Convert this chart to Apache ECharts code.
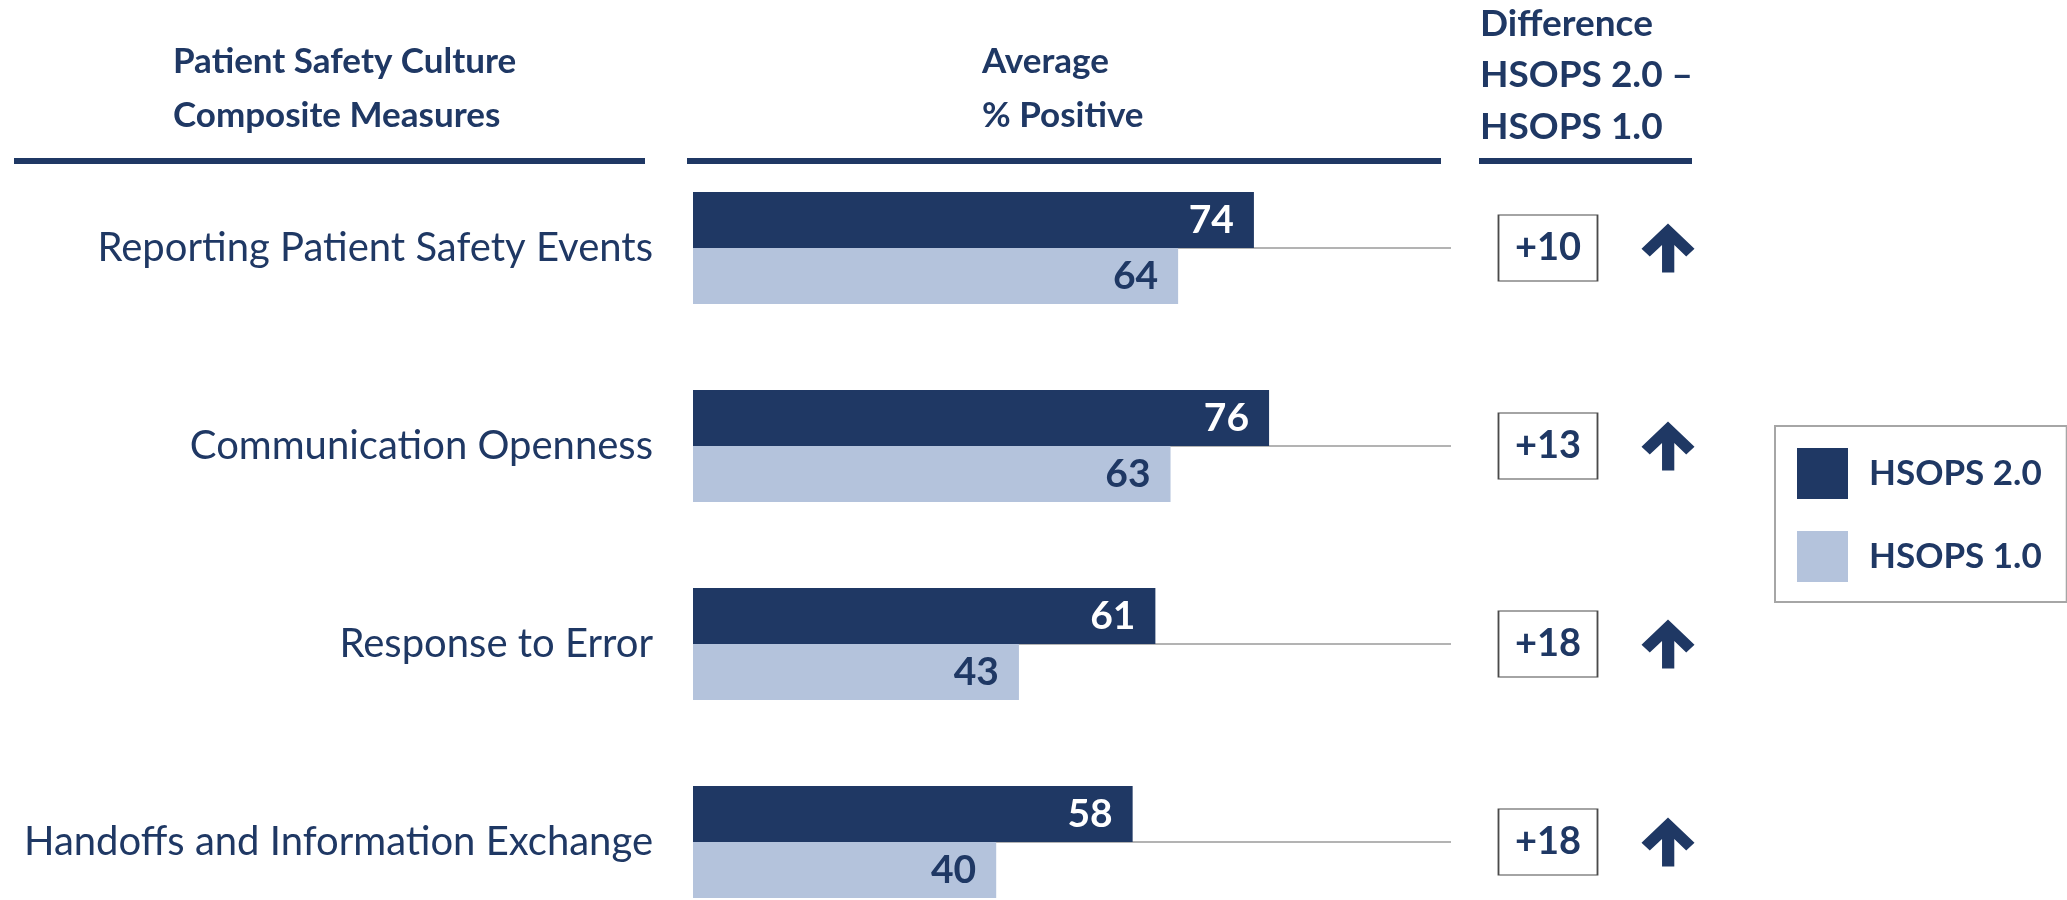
<!DOCTYPE html>
<html>
<head>
<meta charset="utf-8">
<script src="https://cdn.jsdelivr.net/npm/echarts@6/dist/echarts.min.js"></script>
<style>
  html, body { margin: 0; padding: 0; background: #ffffff; }
  #chart { width: 2067px; height: 900px; }
</style>
</head>
<body>
<div id="chart"></div>
<script>
// ---- data ----
const categories = [
  'Reporting Patient Safety Events',
  'Communication Openness',
  'Response to Error',
  'Handoffs and Information Exchange'
];
const hsops2 = [74, 76, 61, 58];
const hsops1 = [64, 63, 43, 40];
const seriesNames = ['HSOPS 2.0', 'HSOPS 1.0'];
const axisMax = 100;
const diffColumns = ['box', 'arrow'];

// ---- styling ----
const NAVY = '#1f3864';
const LIGHT = '#b4c3dc';
const FONT = 'Lato';

const diffs = hsops2.map((v, i) => v - hsops1[i]);
const arrowPath = 'path://M80 0 L160 76 L135 100 L99 65 L99 148 L62 148 L62 65 L25 100 L0 76 Z';

const chart = echarts.init(document.getElementById('chart'), null, { renderer: 'canvas' });

function headerText(x, y, text, size) {
  return {
    type: 'text', x: x, y: y, silent: true,
    style: { text: text, fill: NAVY, font: 'bold ' + size + 'px ' + FONT, verticalAlign: 'middle', align: 'left' }
  };
}

const option = {
  backgroundColor: '#ffffff',
  animation: false,
  textStyle: { fontFamily: FONT },
  grid: [
    { left: 693, width: 758, top: 149, height: 792, containLabel: false, outerBoundsMode: 'none' },
    { left: 1488, width: 240, top: 149, height: 792, containLabel: false, outerBoundsMode: 'none' }
  ],
  xAxis: [
    { type: 'value', gridIndex: 0, min: 0, max: axisMax, show: false },
    { type: 'category', gridIndex: 1, data: diffColumns, show: false }
  ],
  yAxis: [
    {
      type: 'category', gridIndex: 0, data: categories, inverse: true,
      axisLine: { show: false }, axisTick: { show: false }, splitLine: { show: false },
      axisLabel: { fontSize: 40, color: NAVY, fontFamily: FONT, margin: 40 }
    },
    { type: 'category', gridIndex: 0, data: categories, inverse: true, show: false },
    { type: 'category', gridIndex: 1, data: categories, inverse: true, show: false }
  ],
  legend: {
    data: seriesNames,
    orient: 'vertical',
    left: 1775, top: 426,
    itemWidth: 51, itemHeight: 51, itemGap: 32,
    icon: 'rect',
    borderColor: '#a6a6a6', borderWidth: 2,
    padding: [22, 25, 20, 22],
    textStyle: { fontSize: 35, fontWeight: 'bold', color: NAVY, fontFamily: FONT, padding: [0, 0, 0, 16] },
    selectedMode: false
  },
  series: [
    {
      name: 'guide', type: 'bar', xAxisIndex: 0, yAxisIndex: 1,
      data: categories.map(() => axisMax), barWidth: 2, z: 1, silent: true,
      itemStyle: { color: '#b3b3b3' }
    },
    {
      name: seriesNames[0], type: 'bar', xAxisIndex: 0, yAxisIndex: 0,
      data: hsops2, barWidth: 56, barGap: '0%', z: 3,
      itemStyle: { color: NAVY },
      label: { show: true, position: 'insideRight', offset: [-15, 0], fontSize: 39, fontWeight: 'bold', color: '#ffffff', fontFamily: FONT }
    },
    {
      name: seriesNames[1], type: 'bar', xAxisIndex: 0, yAxisIndex: 0,
      data: hsops1, barWidth: 56, barGap: '0%', z: 3,
      itemStyle: { color: LIGHT },
      label: { show: true, position: 'insideRight', offset: [-15, 0], fontSize: 39, fontWeight: 'bold', color: NAVY, fontFamily: FONT }
    },
    {
      name: 'diff', type: 'scatter', xAxisIndex: 1, yAxisIndex: 2,
      data: diffs.map((d, i) => [diffColumns[0], categories[i], d]),
      symbol: 'rect', symbolSize: [99, 66], z: 3,
      itemStyle: { color: '#ffffff', borderColor: '#4a4a4a', borderWidth: 1.5, opacity: 1 },
      label: {
        show: true, position: 'inside', fontSize: 38, fontWeight: 'bold', color: NAVY, fontFamily: FONT,
        formatter: p => (p.value[2] > 0 ? '+' : '') + p.value[2]
      }
    },
    {
      name: 'arrow', type: 'scatter', xAxisIndex: 1, yAxisIndex: 2,
      data: diffs.map((d, i) => ({ value: [diffColumns[1], categories[i]], symbolRotate: d >= 0 ? 0 : 180 })),
      symbol: arrowPath, symbolSize: [53, 49], z: 3,
      itemStyle: { color: NAVY, opacity: 1 }
    }
  ],
  graphic: [
    { type: 'rect', silent: true, shape: { x: 14, y: 158, width: 631, height: 6 }, style: { fill: NAVY } },
    { type: 'rect', silent: true, shape: { x: 687, y: 158, width: 754, height: 6 }, style: { fill: NAVY } },
    { type: 'rect', silent: true, shape: { x: 1479, y: 158, width: 213, height: 6 }, style: { fill: NAVY } },
    headerText(173, 62, 'Patient Safety Culture', 35),
    headerText(173, 116, 'Composite Measures', 35),
    headerText(982, 62, 'Average', 35),
    headerText(982, 116, '% Positive', 35),
    headerText(1480, 24, 'Difference', 37),
    headerText(1480, 75, 'HSOPS 2.0 –', 37),
    headerText(1480, 127, 'HSOPS 1.0', 37)
  ]
};

chart.setOption(option);
</script>
</body>
</html>
